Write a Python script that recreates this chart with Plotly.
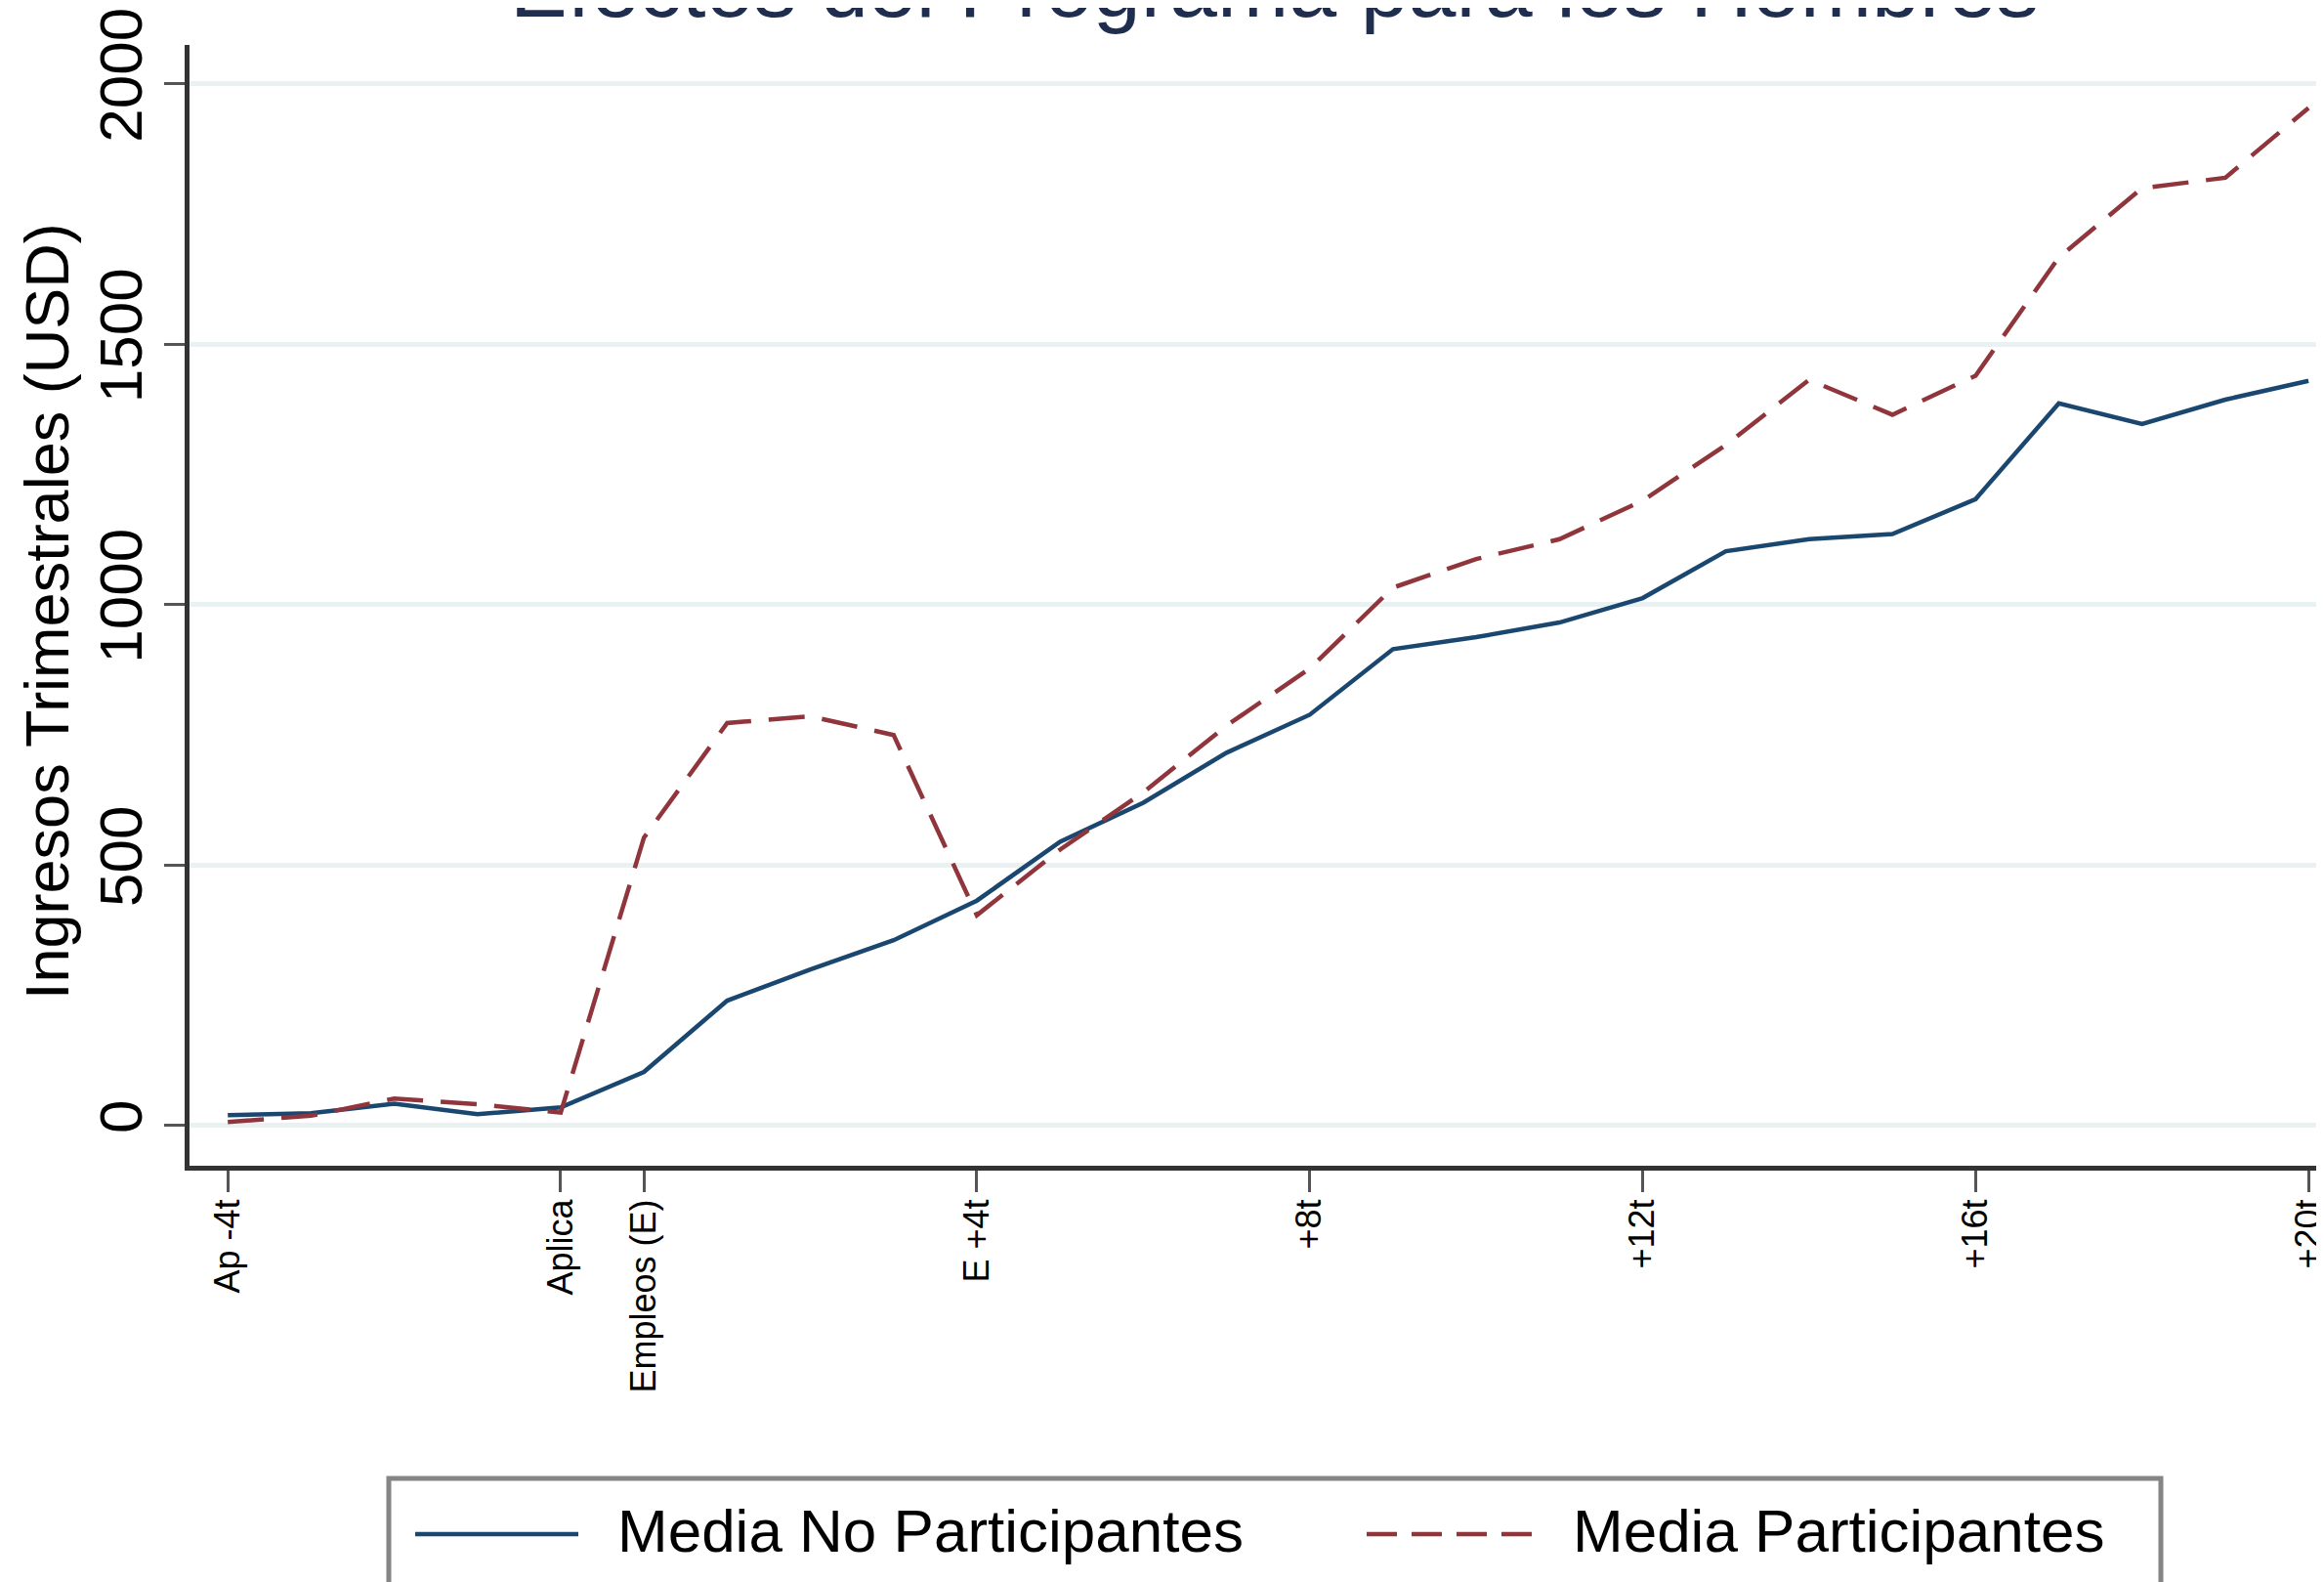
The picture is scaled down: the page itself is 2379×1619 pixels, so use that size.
import plotly.graph_objects as go

# ---- data ----
quarters = list(range(26))
tick_positions = [0, 4, 5, 9, 13, 17, 21, 25]
tick_labels = ["Ap -4t", "Aplica", "Empleos (E)", "E +4t", "+8t", "+12t", "+16t", "+20t"]
no_participantes = [20, 24, 42, 22, 35, 103, 240, 300, 356, 432, 545, 620, 716, 789,
                    915, 938, 966, 1013, 1103, 1126, 1136, 1203, 1387, 1347, 1394, 1430]
participantes = [7, 19, 52, 41, 25, 553, 773, 786, 750, 404, 530, 640, 768, 878,
                 1033, 1088, 1126, 1200, 1307, 1432, 1365, 1440, 1667, 1800, 1820, 1954]
y_ticks = [0, 500, 1000, 1500, 2000]
series_names = ["Media No Participantes", "Media Participantes"]
title_text = "Efectos del Programa para los Hombres"
y_title = "Ingresos Trimestrales (USD)"

# ---- layout geometry ----
W, H = 2379, 1619
L, R, T, B = 186, 0, 38, 434
PW, PH = W - L - R, H - T - B
BLUE = "#1A476F"
RED = "#90353B"
FONT = "Liberation Sans, Arial, sans-serif"


def px_x(px):
    return (px - L) / PW


def px_y(py):
    return (H - B - py) / PH


fig = go.Figure()
fig.add_trace(go.Scatter(x=quarters, y=no_participantes, mode="lines", name=series_names[0],
                         line=dict(color=BLUE, width=4.5), showlegend=False))
fig.add_trace(go.Scatter(x=quarters, y=participantes, mode="lines", name=series_names[1],
                         line=dict(color=RED, width=4.5, dash="37px,18px"), showlegend=False))

fig.update_layout(
    width=W, height=H,
    margin=dict(l=L, r=R, t=T, b=B, pad=0),
    paper_bgcolor="white", plot_bgcolor="white",
    font=dict(family=FONT, color="black"),
    xaxis=dict(range=[-0.46, 25.28], tickmode="array", tickvals=tick_positions, ticktext=tick_labels,
               tickangle=-90, tickfont=dict(size=36, color="black"), ticks="outside", ticklen=22,
               tickwidth=3, tickcolor="#555555", showline=True, linecolor="#333333", linewidth=5,
               showgrid=False, zeroline=False, ticklabelstandoff=-7, ticklabeloverflow="allow"),
    yaxis=dict(range=[-77, 2075], tickmode="array", tickvals=y_ticks,
               tickangle=-90, tickfont=dict(size=62, color="black"), ticks="outside", ticklen=21,
               tickwidth=3, tickcolor="#555555", showline=True, linecolor="#333333", linewidth=5,
               showgrid=True, gridcolor="#E9F1F3", gridwidth=5, zeroline=False,
               ticklabelstandoff=-2, ticklabeloverflow="allow"),
)

annotations = [
    dict(text=title_text, xref="paper", yref="paper", x=px_x(1296), y=px_y(30), xanchor="center",
         yanchor="bottom", showarrow=False, font=dict(size=88, color="#1F2D4E", family=FONT)),
    dict(text=y_title, xref="paper", yref="paper", x=px_x(40), y=px_y(618), xanchor="center",
         yanchor="middle", textangle=-90, showarrow=False, font=dict(size=63, color="black", family=FONT)),
    dict(text=series_names[0], xref="paper", yref="paper", x=px_x(622), y=px_y(1558), xanchor="left",
         yanchor="middle", showarrow=False, font=dict(size=62, color="black", family=FONT)),
    dict(text=series_names[1], xref="paper", yref="paper", x=px_x(1600), y=px_y(1558), xanchor="left",
         yanchor="middle", showarrow=False, font=dict(size=62, color="black", family=FONT)),
]
fig.update_layout(annotations=annotations)

shapes = [
    # legend box
    dict(type="rect", xref="paper", yref="paper", x0=px_x(390), x1=px_x(2204), y0=px_y(1640), y1=px_y(1505),
         line=dict(color="#858585", width=5), fillcolor="white", layer="above"),
    # legend keys
    dict(type="line", xref="paper", yref="paper", x0=px_x(417), x1=px_x(584), y0=px_y(1562), y1=px_y(1562),
         line=dict(color=BLUE, width=4.5)),
    dict(type="line", xref="paper", yref="paper", x0=px_x(1391), x1=px_x(1563), y0=px_y(1562), y1=px_y(1562),
         line=dict(color=RED, width=4.5, dash="31px,15px")),
]
fig.update_layout(shapes=shapes)

fig.write_html("out.html")
